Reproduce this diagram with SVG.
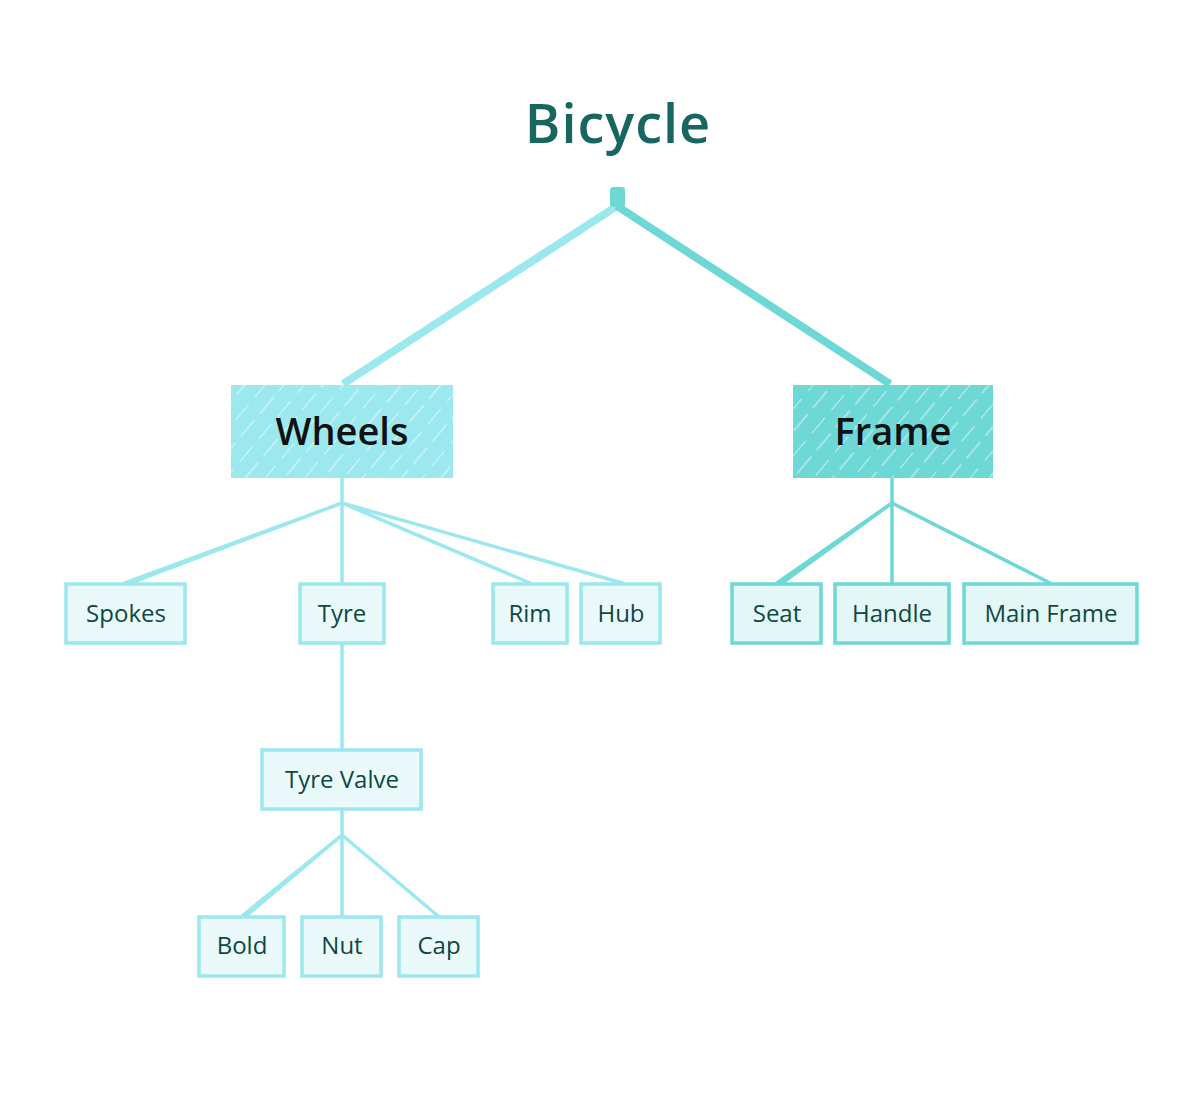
<svg xmlns="http://www.w3.org/2000/svg" width="1198" height="1100" viewBox="0 0 1198 1100">
<style>
.title{font-family:"Open Sans","Noto Sans",sans-serif;font-weight:600;font-size:54px;letter-spacing:1px;fill:#17665f;text-anchor:middle}
.main{font-family:"Open Sans","Noto Sans",sans-serif;font-weight:600;font-size:38px;fill:#111;text-anchor:middle}
.leaf{font-family:"Open Sans","Noto Sans",sans-serif;font-size:24px;fill:#0f4744;text-anchor:middle}
.cw{stroke:#9be8ee;stroke-width:3.5;fill:none;stroke-linecap:round;stroke-linejoin:round}
.cf{stroke:#6dd8d6;stroke-width:3.5;fill:none;stroke-linecap:round;stroke-linejoin:round}
.lw{fill:#eafafb;stroke:#9be8ee;stroke-width:3.5}
.lf{fill:#e3f7f6;stroke:#6dd8d6;stroke-width:3.5}
.hatch{fill:url(#h)}
</style>
<defs>
<pattern id="h" width="30" height="30" patternUnits="userSpaceOnUse" patternTransform="rotate(40)">
<line x1="0" y1="0" x2="0" y2="20" stroke="#fff" stroke-width="1.6" stroke-opacity="0.75"/>
<line x1="15" y1="8" x2="15" y2="30" stroke="#fff" stroke-width="1.3" stroke-opacity="0.6"/>
</pattern>
</defs>
<text class="title" x="618" y="143">Bicycle</text>
<g id="connectors">
<path d="M617 206 L343 384" stroke="#9be8ee" stroke-width="8" fill="none"/>
<path d="M617 206 L890 384" stroke="#6dd8d6" stroke-width="8" fill="none"/>
<path class="cw" d="M342 478 V503 M342 503 L125 583 M342 503 L130 583 M342 503 V583 M342 503 L530 583 M342 503 L622 583"/>
<path class="cf" d="M892 478 V503 M892 503 L777 583 M892 503 L782 583 M892 503 V583 M892 503 L1050 583"/>
<path class="cw" d="M342 643 V750"/>
<path class="cw" d="M342 809 V835 M342 835 L242 916 M342 835 L246 916 M342 835 V916 M342 835 L438 916"/>
</g>
<g id="root"><rect x="611" y="188" width="13" height="18" fill="#6dd8d6" stroke="#6dd8d6" stroke-width="2" rx="2"/></g>
<g id="wheels"><rect x="231" y="385" width="222" height="93" fill="#9be8ee"/><rect class="hatch" x="231" y="385" width="222" height="93"/><text class="main" x="342" y="445">Wheels</text></g>
<g id="frame"><rect x="793" y="385" width="200" height="93" fill="#6dd8d6"/><rect class="hatch" x="793" y="385" width="200" height="93"/><text class="main" x="893" y="445">Frame</text></g>
<g id="spokes"><rect class="lw" x="66" y="584" width="119" height="59"/><text class="leaf" x="126" y="622">Spokes</text></g>
<g id="tyre"><rect class="lw" x="300" y="584" width="84" height="59"/><text class="leaf" x="342" y="622">Tyre</text></g>
<g id="rim"><rect class="lw" x="493" y="584" width="74" height="59"/><text class="leaf" x="530" y="622">Rim</text></g>
<g id="hub"><rect class="lw" x="581" y="584" width="79" height="59"/><text class="leaf" x="621" y="622">Hub</text></g>
<g id="seat"><rect class="lf" x="732" y="584" width="89" height="59"/><text class="leaf" x="777" y="622">Seat</text></g>
<g id="handle"><rect class="lf" x="835" y="584" width="114" height="59"/><text class="leaf" x="892" y="622">Handle</text></g>
<g id="mainframe"><rect class="lf" x="964" y="584" width="173" height="59"/><text class="leaf" x="1051" y="622">Main Frame</text></g>
<g id="tyrevalve"><rect class="lw" x="262" y="750" width="159" height="59"/><text class="leaf" x="342" y="788">Tyre Valve</text></g>
<g id="bold"><rect class="lw" x="199" y="917" width="85" height="59"/><text class="leaf" x="242" y="954">Bold</text></g>
<g id="nut"><rect class="lw" x="302" y="917" width="79" height="59"/><text class="leaf" x="342" y="954">Nut</text></g>
<g id="cap"><rect class="lw" x="399" y="917" width="79" height="59"/><text class="leaf" x="439" y="954">Cap</text></g>
</svg>
